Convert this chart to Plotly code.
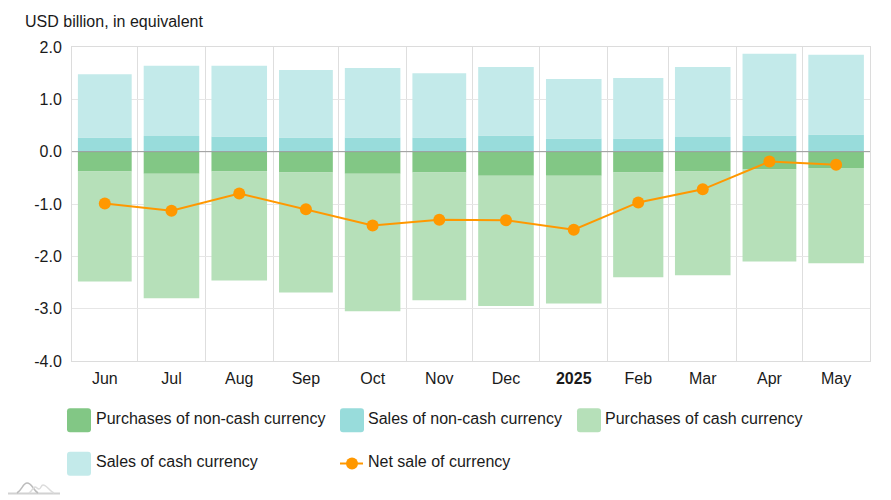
import pandas as pd
import plotly.graph_objs as go

# months on a real date axis, that is why the bands are not all the same width
months = ['2024-06-01', '2024-07-01', '2024-08-01', '2024-09-01', '2024-10-01', '2024-11-01',
          '2024-12-01', '2025-01-01', '2025-02-01', '2025-03-01', '2025-04-01', '2025-05-01']
month_labels = ['Jun', 'Jul', 'Aug', 'Sep', 'Oct', 'Nov', 'Dec', '<b>2025</b>', 'Feb', 'Mar', 'Apr', 'May']

purchases_noncash = [-0.38, -0.42, -0.38, -0.40, -0.42, -0.40, -0.46, -0.46, -0.40, -0.38, -0.34, -0.31]
sales_noncash = [0.27, 0.30, 0.29, 0.27, 0.27, 0.27, 0.31, 0.25, 0.25, 0.28, 0.31, 0.33]
purchases_cash = [-2.10, -2.38, -2.08, -2.29, -2.63, -2.44, -2.49, -2.44, -2.00, -1.98, -1.76, -1.82]
sales_cash = [1.21, 1.34, 1.35, 1.29, 1.33, 1.23, 1.31, 1.14, 1.16, 1.34, 1.56, 1.52]
net_sale = [-0.99, -1.13, -0.80, -1.10, -1.41, -1.30, -1.31, -1.49, -0.97, -0.72, -0.19, -0.25]

y_ticks = [2, 1, 0, -1, -2, -3, -4]
y_labels = ['2.0', '1.0', '0.0', '-1.0', '-2.0', '-3.0', '-4.0']

names = ['Purchases of non-cash currency', 'Sales of non-cash currency', 'Purchases of cash currency',
         'Sales of cash currency', 'Net sale of currency']
colors = ['#82c785', '#98dcdb', '#b6e0b9', '#c3eaea', '#ff9800']

# the page body has an 8px margin, so the figure starts at 8,8
OFF = 8
W, H = 891 - OFF, 500 - OFF
L, R, T, B = 72 - OFF, 21, 47 - OFF, 139


# helpers take page pixels
def px(x):
    return (x - OFF - L) / (W - L - R)


def py(y):
    return 1 - (y - OFF - T) / (H - T - B)


edges = pd.to_datetime(months + ['2025-06-01'])
lengths = edges[1:] - edges[:-1]
mids = edges[:-1] + lengths / 2
widths = [d.total_seconds() * 1000 * 0.82 for d in lengths]

fig = go.Figure()
series = [purchases_noncash, sales_noncash, purchases_cash, sales_cash]
for vals, name, color in zip(series, names, colors):
    fig.add_trace(go.Bar(x=mids, y=vals, width=widths, name=name, marker_color=color,
                         marker_line_width=0, showlegend=False))
fig.add_trace(go.Scatter(x=mids, y=net_sale, name=names[4], mode='lines+markers', showlegend=False,
                         line=dict(color=colors[4], width=2), marker=dict(color=colors[4], size=12)))

shapes = [dict(type='line', xref='paper', yref='y', x0=0, x1=1, y0=0, y1=0, layer='above',
               line=dict(color='#999999', width=1))]


def rounded(x0, y0, size=24, r=3):
    x1, y1 = x0 + size, y0 + size
    pts = [('M', x0 + r, y0), ('L', x1 - r, y0), ('Q', x1, y0), ('', x1, y0 + r), ('L', x1, y1 - r),
           ('Q', x1, y1), ('', x1 - r, y1), ('L', x0 + r, y1), ('Q', x0, y1), ('', x0, y1 - r),
           ('L', x0, y0 + r), ('Q', x0, y0), ('', x0 + r, y0)]
    return ' '.join(f'{c} {px(a):.5f} {py(b):.5f}' for c, a, b in pts) + ' Z'


# legend is drawn by hand, plotly can't do these big rounded swatches
swatches = [(67, 408.3), (340, 408.3), (577, 408.3), (67, 451.7)]
for (sx, sy), color in zip(swatches, colors):
    shapes.append(dict(type='path', xref='paper', yref='paper', path=rounded(sx, sy), fillcolor=color,
                       line=dict(width=0)))
shapes.append(dict(type='line', xref='paper', yref='paper', x0=px(340), x1=px(363), y0=py(463.5), y1=py(463.5),
                   line=dict(color=colors[4], width=2)))
shapes.append(dict(type='circle', xref='paper', yref='paper', x0=px(346), x1=px(358), y0=py(457.5), y1=py(469.5),
                   fillcolor=colors[4], line=dict(width=0)))

# faint logo bottom left
shapes.append(dict(type='line', xref='paper', yref='paper', x0=px(6), x1=px(60), y0=py(493.5), y1=py(493.5),
                   line=dict(color='#d2d2d2', width=2)))
shapes.append(dict(type='path', xref='paper', yref='paper', line=dict(color='#bcbcbc', width=1.5),
                   path=f'M {px(17)} {py(493)} C {px(22)} {py(490)} {px(23)} {py(483)} {px(27)} {py(483)} '
                        f'C {px(32)} {py(483)} {px(33)} {py(490)} {px(38)} {py(493)}'))
shapes.append(dict(type='path', xref='paper', yref='paper', line=dict(color='#dcdcdc', width=1.5),
                   path=f'M {px(29)} {py(493)} C {px(33)} {py(490)} {px(33)} {py(487)} {px(35)} {py(487)} '
                        f'C {px(37)} {py(487)} {px(37)} {py(489)} {px(39)} {py(489)} '
                        f'C {px(41)} {py(489)} {px(41)} {py(485)} {px(43)} {py(485)} '
                        f'C {px(47)} {py(485)} {px(49)} {py(491)} {px(54)} {py(493)}'))

annotations = [dict(text='USD billion, in equivalent', xref='paper', yref='paper', x=px(23), y=py(22),
                    xanchor='left', yanchor='middle', showarrow=False)]
legend_text = [(93.5, 418.5), (366, 418.5), (603, 418.5), (93.5, 461.5), (366, 461.5)]
for (tx, ty), name in zip(legend_text, names):
    annotations.append(dict(text=name, xref='paper', yref='paper', x=px(tx), y=py(ty), xanchor='left',
                            yanchor='middle', showarrow=False))

fig.update_layout(width=W, height=H, margin=dict(l=L, r=R, t=T, b=B, pad=0), barmode='relative',
                  paper_bgcolor='white', plot_bgcolor='white', showlegend=False,
                  font=dict(family='Liberation Sans', size=16, color='#1a1a1a'),
                  shapes=shapes, annotations=annotations)
fig.update_xaxes(type='date', range=[edges[0], edges[-1]], tickmode='array', tickvals=mids, ticktext=month_labels,
                 ticks='outside', ticklen=3, tickcolor='rgba(0,0,0,0)', showgrid=False, zeroline=False,
                 showline=True, linecolor='#dcdcdc', mirror=True,
                 minor=dict(tickmode='array', tickvals=edges[1:-1], showgrid=True, gridcolor='#dedede', gridwidth=1,
                            ticks=''))
fig.update_yaxes(range=[-4, 2], tickmode='array', tickvals=y_ticks, ticktext=y_labels, ticks='outside', ticklen=6,
                 tickcolor='rgba(0,0,0,0)', showgrid=True, gridcolor='#e6e6e6', gridwidth=1, zeroline=False,
                 showline=True, linecolor='#dcdcdc', mirror=True)

fig.write_html("out.html")
